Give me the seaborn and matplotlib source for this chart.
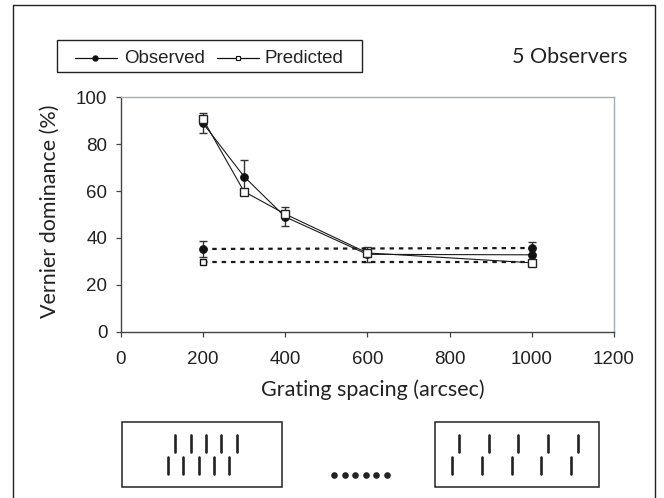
import matplotlib
matplotlib.use("Agg")
import matplotlib.pyplot as plt
import seaborn as sns
import pandas as pd
from matplotlib.lines import Line2D
from matplotlib.patches import Rectangle

# ---- data ----
spacing = [200, 300, 400, 600, 1000]
observed = [89.0, 66.2, 49.0, 33.0, 32.8]
observed_err = [4.3, 7.0, 4.0, 3.2, 3.0]
predicted = [90.7, 59.8, 50.2, 33.6, 29.4]
baseline_x = [200, 1000]
baseline_obs = [35.3, 35.7]
baseline_obs_err = [3.6, 2.5]
baseline_pred = [29.6, 29.6]
xticks = [0, 200, 400, 600, 800, 1000, 1200]
yticks = [0, 20, 40, 60, 80, 100]

# schematic stimulus ticks (pixel positions)
left_top = [175, 190.7, 206, 221.3, 236.7]
left_bot = [168.3, 183.3, 199, 214, 229.3]
right_top = [459.3, 489, 518.3, 548.3, 577.7]
right_bot = [452.3, 481.7, 511.7, 541, 570.7]
dots_x = [334, 344.5, 355, 365.5, 376, 386.5]

sns.set_theme(style="white")
plt.rcParams['font.family'] = ['Liberation Sans', 'DejaVu Sans']

W, H = 664, 498
fig = plt.figure(figsize=(W / 100, H / 100), dpi=100)

# main axes
L, R, T, B = 120.7, 614.0, 97.3, 331.7
ax = fig.add_axes([L / W, 1 - B / H, (R - L) / W, (B - T) / H])

df = pd.DataFrame({"spacing": spacing, "observed": observed, "predicted": predicted})
dfb = pd.DataFrame({"x": baseline_x, "obs": baseline_obs, "pred": baseline_pred})

# baselines (dotted)
sns.lineplot(data=dfb, x="x", y="obs", ax=ax, color="#1a1a1a", lw=1.6,
             linestyle=(0, (2, 2.2)), marker="o", markersize=5.5, markeredgecolor="#111",
             markerfacecolor="#111", zorder=3)
sns.lineplot(data=dfb, x="x", y="pred", ax=ax, color="#1a1a1a", lw=1.6,
             linestyle=(0, (2, 2.2)), marker="s", markersize=4.5, markeredgecolor="#111",
             markerfacecolor="white", markeredgewidth=1.0, zorder=3)
ax.errorbar(baseline_x, baseline_obs, yerr=baseline_obs_err, fmt="none",
            ecolor="#333", elinewidth=1.0, capsize=3.0, capthick=1.0, zorder=2)

# observed
ax.errorbar(spacing, observed, yerr=observed_err, fmt="none", ecolor="#333",
            elinewidth=1.0, capsize=3.0, capthick=1.0, zorder=2)
sns.lineplot(data=df, x="spacing", y="observed", ax=ax, color="#1a1a1a", lw=0.8,
             marker="o", markersize=5.5, markeredgecolor="#111", markerfacecolor="#111", zorder=4)
# predicted
sns.lineplot(data=df, x="spacing", y="predicted", ax=ax, color="#1a1a1a", lw=0.8,
             marker="s", markersize=5.2, markeredgecolor="#222", markerfacecolor="white",
             markeredgewidth=1.0, zorder=5)

ax.set_xlim(0, 1200)
ax.set_ylim(0, 100)
ax.set_xticks(xticks)
ax.set_yticks(yticks)
ax.set_xticklabels([str(v) for v in xticks])
ax.set_yticklabels([str(v) for v in yticks])
ax.tick_params(axis="both", which="major", direction="out", length=3.6, width=0.9,
               color="#444", labelsize=13.5, labelcolor="#222")
ax.tick_params(axis="x", pad=10)
ax.tick_params(axis="y", pad=6)
ax.tick_params(bottom=True, left=True)
for s in ["left", "bottom"]:
    ax.spines[s].set_color("#444")
    ax.spines[s].set_linewidth(1.0)
for s in ["top", "right"]:
    ax.spines[s].set_color("#a3abb3")
    ax.spines[s].set_linewidth(1.0)
ax.grid(False)

lab_font = ['Lato', 'DejaVu Sans']
ax.set_xlabel("Grating spacing (arcsec)", fontsize=15.5, family=lab_font, color="#222")
ax.set_ylabel("Vernier dominance (%)", fontsize=15.5, family=lab_font, color="#222")
ax.xaxis.set_label_coords((373 - L) / (R - L), (B - 390) / (B - T))
ax.xaxis.label.set_va("center")
ax.yaxis.set_label_coords((50 - L) / (R - L), (B - 211) / (B - T))
ax.yaxis.label.set_va("center")

# overlay axes in pixel coordinates
ov = fig.add_axes([0, 0, 1, 1])
ov.set_xlim(0, W)
ov.set_ylim(H, 0)
ov.axis("off")

# figure frame
ov.add_line(Line2D([12.5, 12.5, 655, 655], [H + 5, 5, 5, H + 5], color="#222", lw=1.0))

# legend box
ov.add_patch(Rectangle((57.3, 40), 304.4, 31.7, fill=False, ec="#222", lw=1.0))
ov.add_line(Line2D([75, 117], [57.5, 57.5], color="#111", lw=0.9))
ov.plot([95], [57.5], marker="o", ms=3.6, color="#111")
ov.text(124, 58, "Observed", fontsize=13.5, va="center", ha="left", color="#222")
ov.add_line(Line2D([217, 259], [57.5, 57.5], color="#111", lw=0.9))
ov.plot([238], [57.5], marker="s", ms=3.4, mfc="white", mec="#111", mew=0.8)
ov.text(264, 58, "Predicted", fontsize=13.5, va="center", ha="left", color="#222")

ov.text(628, 57, "5 Observers", fontsize=15.5, va="center", ha="right", family=lab_font, color="#222")

# stimulus schematics
ov.add_patch(Rectangle((121.7, 422.3), 160.6, 65, fill=False, ec="#222", lw=1.1))
ov.add_patch(Rectangle((435, 422.3), 164, 65, fill=False, ec="#222", lw=1.1))
for xs, y0, y1 in [(left_top, 435, 451.7), (left_bot, 457.3, 474),
                   (right_top, 435, 451.7), (right_bot, 457.3, 474)]:
    for xv in xs:
        ov.add_line(Line2D([xv, xv], [y0, y1], color="#222", lw=1.9))
ov.scatter(dots_x, [475] * len(dots_x), s=14, color="#222", zorder=3)

fig.savefig("out.png", dpi=100)
